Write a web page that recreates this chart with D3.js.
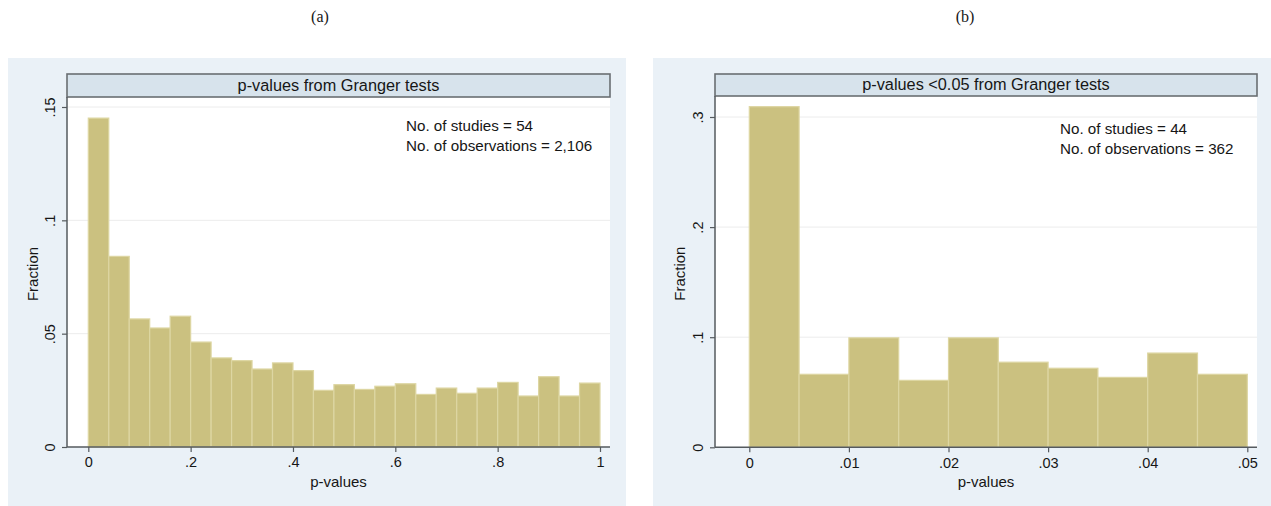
<!DOCTYPE html>
<html>
<head>
<meta charset="utf-8">
<script src="https://cdn.jsdelivr.net/npm/d3@7"></script>
<style>
  html, body { margin: 0; padding: 0; background: #ffffff; }
  svg { display: block; }
</style>
</head>
<body>
<svg id="chart" width="1271" height="506"></svg>
<script>
// ---------------- DATA ----------------
// Panel (a): p-values from Granger tests, 25 bins of width 0.04 on [0,1]
const binStartsA = [0,0.04,0.08,0.12,0.16,0.20,0.24,0.28,0.32,0.36,0.40,0.44,0.48,0.52,0.56,0.60,0.64,0.68,0.72,0.76,0.80,0.84,0.88,0.92,0.96];
const fractionA  = [0.1451,0.0841,0.0565,0.0525,0.0577,0.0463,0.0393,0.0381,0.0344,0.0371,0.0337,0.0250,0.0275,0.0254,0.0268,0.0279,0.0232,0.0260,0.0237,0.0260,0.0285,0.0225,0.0310,0.0225,0.0282];
const binWidthA = 0.04;
const xTicksA = [0, 0.2, 0.4, 0.6, 0.8, 1];
const xTickLabelsA = ["0", ".2", ".4", ".6", ".8", "1"];
const yTicksA = [0, 0.05, 0.1, 0.15];
const yTickLabelsA = ["0", ".05", ".1", ".15"];
const titleA = "p-values from Granger tests";
const notesA = ["No. of studies = 54", "No. of observations = 2,106"];

// Panel (b): p-values < 0.05, 10 bins of width 0.005 on [0,0.05]
const binStartsB = [0,0.005,0.010,0.015,0.020,0.025,0.030,0.035,0.040,0.045];
const fractionB  = [0.3094,0.0663,0.0994,0.0608,0.0994,0.0773,0.0718,0.0635,0.0856,0.0663];
const binWidthB = 0.005;
const xTicksB = [0, 0.01, 0.02, 0.03, 0.04, 0.05];
const xTickLabelsB = ["0", ".01", ".02", ".03", ".04", ".05"];
const yTicksB = [0, 0.1, 0.2, 0.3];
const yTickLabelsB = ["0", ".1", ".2", ".3"];
const titleB = "p-values <0.05 from Granger tests";
const notesB = ["No. of studies = 44", "No. of observations = 362"];

const panelLabels = ["(a)", "(b)"];
const xAxisTitle = "p-values";
const yAxisTitle = "Fraction";

// ---------------- STYLE ----------------
const SANS = "'Liberation Sans', Arial, Helvetica, sans-serif";
const SERIF = "'Liberation Serif', 'Times New Roman', serif";
const INK = "#161616";
const BG = "#eaf1f7";
const BAR = "#cbc180";
const BAR_EDGE = "#ddd6a2";
const TITLE_FILL = "#d7e3ec";
const AXIS = "#555a5e";
const GRID = "#ececec";

const svg = d3.select("#chart");

function txt(sel, size, family) {
  return sel.style("font-family", family || SANS).style("font-size", size + "px").style("fill", INK);
}

function drawPanel(cfg) {
  const g = svg.append("g");
  // panel background
  g.append("rect").attr("x", cfg.bg[0]).attr("y", cfg.bg[1])
    .attr("width", cfg.bg[2]).attr("height", cfg.bg[3]).attr("fill", BG);

  const x = d3.scaleLinear().domain(cfg.xDomain).range(cfg.xRange);
  const y = d3.scaleLinear().domain([0, cfg.yMaxVal]).range([cfg.y0, cfg.yTop]);

  // plot area
  g.append("rect").attr("x", cfg.plot[0]).attr("y", cfg.plot[1])
    .attr("width", cfg.plot[2] - cfg.plot[0]).attr("height", cfg.plot[3] - cfg.plot[1])
    .attr("fill", "#ffffff");

  // gridlines
  g.selectAll(".grid").data(cfg.yTicks.filter(d => d > 0)).enter().append("line")
    .attr("x1", cfg.plot[0]).attr("x2", cfg.plot[2])
    .attr("y1", d => y(d)).attr("y2", d => y(d))
    .attr("stroke", GRID).attr("stroke-width", 1);

  // bars
  g.selectAll(".bar").data(cfg.starts.map((s, i) => ({ s, v: cfg.values[i] }))).enter().append("rect")
    .attr("x", d => x(d.s))
    .attr("y", d => y(d.v))
    .attr("width", d => x(d.s + cfg.binWidth) - x(d.s))
    .attr("height", d => y(0) - y(d.v))
    .attr("fill", BAR).attr("stroke", BAR_EDGE).attr("stroke-width", 1.2);

  // title bar
  g.append("rect").attr("x", cfg.plot[0]).attr("y", cfg.titleY[0])
    .attr("width", cfg.plot[2] - cfg.plot[0]).attr("height", cfg.titleY[1] - cfg.titleY[0])
    .attr("fill", TITLE_FILL).attr("stroke", "#6a6e72").attr("stroke-width", 1.6);
  txt(g.append("text").attr("x", (cfg.plot[0] + cfg.plot[2]) / 2).attr("y", cfg.titleY[1] - 6)
    .attr("text-anchor", "middle"), 16.3).text(cfg.title);

  // y axis
  const yAxis = d3.axisLeft(y).tickValues(cfg.yTicks).tickSize(5).tickFormat((d, i) => cfg.yLabels[i]);
  const ya = g.append("g").attr("transform", `translate(${cfg.plot[0]},0)`).call(yAxis);
  ya.select(".domain").attr("d", `M0,${cfg.plot[1]}V${cfg.y0}`).attr("stroke", AXIS).attr("stroke-width", 1.5);
  ya.selectAll(".tick line").attr("stroke", AXIS).attr("stroke-width", 1.2);
  txt(ya.selectAll(".tick text"), 14.5)
    .attr("x", null)
    .attr("transform", "translate(-12,0) rotate(-90)")
    .attr("text-anchor", "middle").attr("y", 0).attr("dy", "0");

  // x axis
  const xAxis = d3.axisBottom(x).tickValues(cfg.xTicks).tickSize(5).tickFormat((d, i) => cfg.xLabels[i]);
  const xa = g.append("g").attr("transform", `translate(0,${cfg.y0})`).call(xAxis);
  xa.select(".domain").attr("d", `M${cfg.plot[0]},0H${cfg.plot[2]}`).attr("stroke", AXIS).attr("stroke-width", 1.5);
  xa.selectAll(".tick line").attr("stroke", AXIS).attr("stroke-width", 1.2);
  txt(xa.selectAll(".tick text"), 14.5).attr("y", 10).attr("dy", "0.71em");

  // axis titles
  txt(g.append("text").attr("x", (cfg.plot[0] + cfg.plot[2]) / 2).attr("y", cfg.y0 + 40)
    .attr("text-anchor", "middle"), 15).text(xAxisTitle);
  txt(g.append("text")
    .attr("transform", `translate(${cfg.yTitleX},${(cfg.plot[1] + cfg.y0) / 2 + 2}) rotate(-90)`)
    .attr("text-anchor", "middle"), 15).text(yAxisTitle);

  // notes
  cfg.notes.forEach((t, i) => {
    txt(g.append("text").attr("x", cfg.noteX).attr("y", cfg.noteY + i * 19.5), 15.2).text(t);
  });

  // panel label
  txt(svg.append("text").attr("x", cfg.labelX).attr("y", 22).attr("text-anchor", "middle"), 16, SERIF)
    .text(cfg.label);
}

drawPanel({
  bg: [8, 58, 618, 448],
  plot: [67, 97, 610, 447],
  titleY: [74, 97],
  xDomain: [0, 1], xRange: [88.3, 600],
  yMaxVal: 0.15, y0: 447, yTop: 107,
  starts: binStartsA, values: fractionA, binWidth: binWidthA,
  xTicks: xTicksA, xLabels: xTickLabelsA, yTicks: yTicksA, yLabels: yTickLabelsA,
  title: titleA, notes: notesA, noteX: 406, noteY: 131,
  yTitleX: 38, label: panelLabels[0], labelX: 320
});

drawPanel({
  bg: [653, 58, 618, 448],
  plot: [715, 96, 1257, 447],
  titleY: [74, 96],
  xDomain: [0, 0.05], xRange: [749.3, 1247.3],
  yMaxVal: 0.3, y0: 447.3, yTop: 117,
  starts: binStartsB, values: fractionB, binWidth: binWidthB,
  xTicks: xTicksB, xLabels: xTickLabelsB, yTicks: yTicksB, yLabels: yTickLabelsB,
  title: titleB, notes: notesB, noteX: 1060, noteY: 134,
  yTitleX: 685, label: panelLabels[1], labelX: 965
});
</script>
</body>
</html>
